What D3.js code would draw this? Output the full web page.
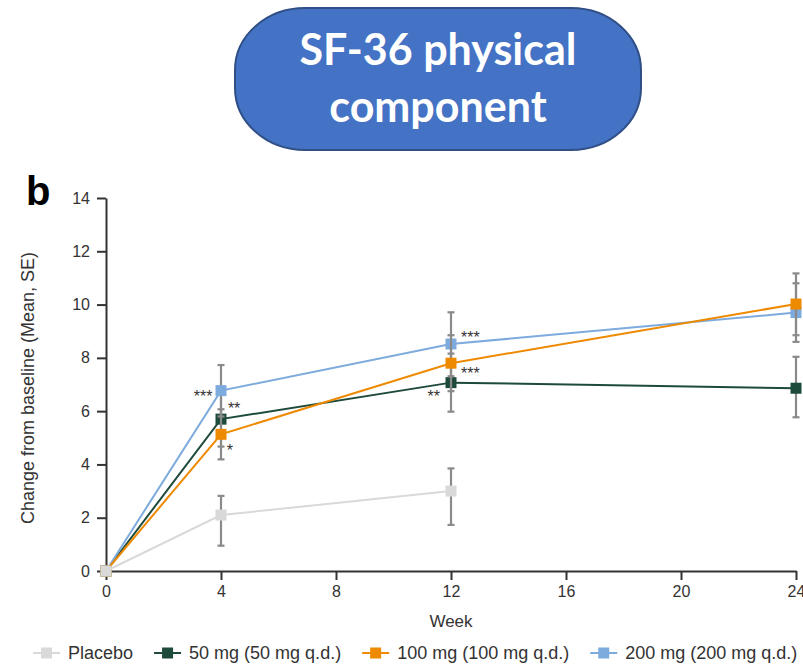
<!DOCTYPE html>
<html>
<head>
<meta charset="utf-8">
<script src="https://cdn.jsdelivr.net/npm/d3@7"></script>
<style>
  body { margin: 0; background: #fff; }
  svg { display: block; font-family: "Liberation Sans", Arial, sans-serif; }
</style>
</head>
<body>
<div id="chart"></div>
<script>
// weeks on the x axis
const weeks = [0, 4, 12, 24];
const xTicks = [0, 4, 8, 12, 16, 20, 24];
const yTicks = [0, 2, 4, 6, 8, 10, 12, 14];

const seriesNames = ["Placebo", "50 mg (50 mg q.d.)", "100 mg (100 mg q.d.)", "200 mg (200 mg q.d.)"];

// mean change from baseline, null = no point
const placeboMean = [0, 2.1, 3.0, null];
const mg50Mean = [0, 5.7, 7.07, 6.86];
const mg100Mean = [0, 5.13, 7.8, 10.02];
const mg200Mean = [0, 6.77, 8.52, 9.7];

// SE bar ends (low / high)
const placeboLow = [null, 0.95, 1.73, null];
const placeboHigh = [null, 2.82, 3.85, null];
const mg50Low = [null, 4.67, 5.98, 5.77];
const mg50High = [null, 6.7, 8.16, 8.04];
const mg100Low = [null, 4.19, 6.75, 8.85];
const mg100High = [null, 6.07, 8.85, 11.17];
const mg200Low = [null, 5.8, 7.31, 8.6];
const mg200High = [null, 7.73, 9.71, 10.8];

// significance marks: week, value, text, anchor
const sigWeeks = [3.7, 4.24, 4.2, 12.35, 12.35, 11.62];
const sigValues = [6.68, 6.23, 4.65, 8.9, 7.55, 6.68];
const sigTexts = ["***", "**", "*", "***", "***", "**"];
const sigAnchors = ["end", "start", "start", "start", "start", "end"];

const colors = {
    placebo: "#d9d9d9",
    mg50: "#1d4a3b",
    mg100: "#ee8a00",
    mg200: "#7eabdd",
    err: "#8a8a8a",
    axis: "#333"
};

const W = 803, H = 665;
const margin = {top: 198, right: 7, bottom: 94, left: 106};
const width = W - margin.left - margin.right, height = H - margin.top - margin.bottom;

const svg = d3.select("#chart").append("svg")
    .attr("width", W)
    .attr("height", H);

// title pill
svg.append("rect")
    .attr("x", 235).attr("y", 8)
    .attr("width", 406).attr("height", 142)
    .attr("rx", 70).attr("ry", 62)
    .style("fill", "#4472c4")
    .style("stroke", "#2f4f86")
    .style("stroke-width", 2);

svg.append("text")
    .attr("x", 438).attr("y", 65)
    .attr("text-anchor", "middle")
    .style("font-family", "Lato, 'Open Sans', sans-serif")
    .style("font-weight", 700)
    .style("font-size", "43px")
    .style("fill", "#fff")
    .text("SF-36 physical");

svg.append("text")
    .attr("x", 438).attr("y", 122)
    .attr("text-anchor", "middle")
    .style("font-family", "Lato, 'Open Sans', sans-serif")
    .style("font-weight", 700)
    .style("font-size", "43px")
    .style("fill", "#fff")
    .text("component");

svg.append("text")
    .attr("x", 26).attr("y", 205)
    .style("font-weight", 700)
    .style("font-size", "40px")
    .style("fill", "#000")
    .text("b");

const g = svg.append("g").attr("transform", "translate(" + margin.left + "," + margin.top + ")");

const x = d3.scaleLinear().domain([0, 24]).range([0, width]);
const y = d3.scaleLinear().domain([0, 14]).range([height, 0]);

// axes
const xAxis = g.append("g")
    .attr("transform", "translate(0," + height + ")")
    .call(d3.axisBottom(x).tickValues(xTicks).tickSize(9).tickPadding(6).tickSizeOuter(0));
const yAxis = g.append("g")
    .call(d3.axisLeft(y).tickValues(yTicks).tickSize(9).tickPadding(7).tickSizeOuter(0));

[xAxis, yAxis].forEach(function (ax) {
    ax.select(".domain").style("stroke", colors.axis).style("stroke-width", 2);
    ax.selectAll(".tick line").style("stroke", colors.axis).style("stroke-width", 2);
    ax.selectAll(".tick text")
        .style("font-family", "'Liberation Sans', Arial, sans-serif")
        .style("font-size", "16px")
        .style("fill", "#333");
});

g.append("text")
    .attr("x", width / 2)
    .attr("y", height + 56)
    .attr("text-anchor", "middle")
    .style("font-size", "17px")
    .style("fill", "#333")
    .text("Week");

g.append("text")
    .attr("transform", "rotate(-90)")
    .attr("x", -(388 - margin.top))
    .attr("y", 34 - margin.left)
    .attr("text-anchor", "middle")
    .style("font-size", "18px")
    .style("fill", "#333")
    .text("Change from baseline (Mean, SE)");

// draw order: 50, 200, 100, placebo
const series = [
    {name: seriesNames[1], mean: mg50Mean, low: mg50Low, high: mg50High, color: colors.mg50},
    {name: seriesNames[3], mean: mg200Mean, low: mg200Low, high: mg200High, color: colors.mg200},
    {name: seriesNames[2], mean: mg100Mean, low: mg100Low, high: mg100High, color: colors.mg100},
    {name: seriesNames[0], mean: placeboMean, low: placeboLow, high: placeboHigh, color: colors.placebo}
];

const line = d3.line()
    .defined(function (d) { return d.v !== null; })
    .x(function (d) { return x(d.w); })
    .y(function (d) { return y(d.v); });

const sq = 11;

series.forEach(function (s) {
    const pts = weeks.map(function (w, i) {
        return {w: w, v: s.mean[i], lo: s.low[i], hi: s.high[i]};
    });
    const sg = g.append("g");

    const bars = pts.filter(function (d) { return d.lo !== null; });
    const eb = sg.selectAll(".eb").data(bars).enter().append("g")
        .style("stroke", colors.err)
        .style("stroke-width", 2.2);
    eb.append("line")
        .attr("x1", function (d) { return x(d.w); })
        .attr("x2", function (d) { return x(d.w); })
        .attr("y1", function (d) { return y(d.lo); })
        .attr("y2", function (d) { return y(d.hi); });
    eb.append("line")
        .attr("x1", function (d) { return x(d.w) - 3.5; })
        .attr("x2", function (d) { return x(d.w) + 3.5; })
        .attr("y1", function (d) { return y(d.lo); })
        .attr("y2", function (d) { return y(d.lo); });
    eb.append("line")
        .attr("x1", function (d) { return x(d.w) - 3.5; })
        .attr("x2", function (d) { return x(d.w) + 3.5; })
        .attr("y1", function (d) { return y(d.hi); })
        .attr("y2", function (d) { return y(d.hi); });

    sg.append("path")
        .datum(pts)
        .attr("d", line)
        .style("fill", "none")
        .style("stroke", s.color)
        .style("stroke-width", 2);

    sg.selectAll(".pt")
        .data(pts.filter(function (d) { return d.v !== null; }))
        .enter().append("rect")
        .attr("x", function (d) { return x(d.w) - sq / 2; })
        .attr("y", function (d) { return y(d.v) - sq / 2; })
        .attr("width", sq)
        .attr("height", sq)
        .style("fill", s.color);
});

// significance stars
g.selectAll(".sig")
    .data(sigTexts)
    .enter().append("text")
    .attr("x", function (d, i) { return x(sigWeeks[i]); })
    .attr("y", function (d, i) { return y(sigValues[i]) + 9; })
    .attr("text-anchor", function (d, i) { return sigAnchors[i]; })
    .style("font-size", "16px")
    .style("fill", "#333")
    .text(function (d) { return d; });

// legend
const legendOrder = [
    {name: seriesNames[0], color: colors.placebo},
    {name: seriesNames[1], color: colors.mg50},
    {name: seriesNames[2], color: colors.mg100},
    {name: seriesNames[3], color: colors.mg200}
];
let lx = 33;
const ly = 653;
legendOrder.forEach(function (item) {
    const lg = svg.append("g");
    lg.append("line")
        .attr("x1", lx).attr("x2", lx + 27)
        .attr("y1", ly).attr("y2", ly)
        .style("stroke", item.color)
        .style("stroke-width", 2);
    lg.append("rect")
        .attr("x", lx + 13.5 - 5.5).attr("y", ly - 5.5)
        .attr("width", 11).attr("height", 11)
        .style("fill", item.color);
    const t = lg.append("text")
        .attr("x", lx + 35)
        .attr("y", ly + 6)
        .style("font-size", "18px")
        .style("fill", "#333")
        .text(item.name);
    lx = lx + 35 + t.node().getComputedTextLength() + 21;
});
</script>
</body>
</html>
